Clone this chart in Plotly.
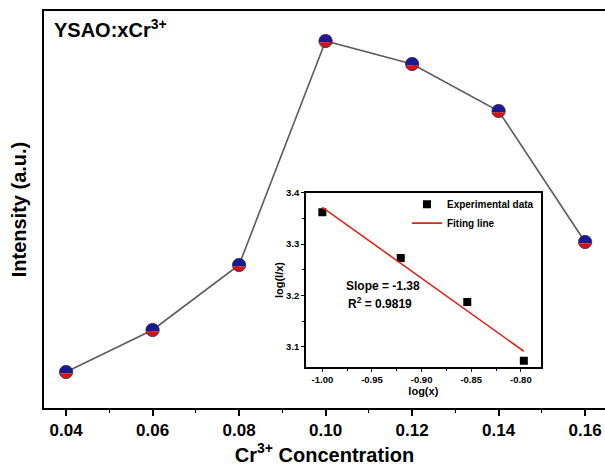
import numpy as np
import plotly.graph_objects as go

FONT = "Liberation Sans, Arial, sans-serif"

# Emission intensity versus Cr3+ doping level
concentration = [0.04, 0.06, 0.08, 0.10, 0.12, 0.14, 0.16]
intensity = [36, 78, 143, 367, 344, 297, 166]
main_tick_vals = [0.04, 0.06, 0.08, 0.10, 0.12, 0.14, 0.16]
main_tick_text = ["0.04", "0.06", "0.08", "0.10", "0.12", "0.14", "0.16"]

# Inset: log(I/x) vs log(x) in the quenching region
log_x = [-1.000, -0.921, -0.854, -0.797]
log_i_over_x = [3.362, 3.273, 3.187, 3.073]
fit_slope = -1.38
fit_r2 = 0.9819
inset_x_ticks = [-1.00, -0.95, -0.90, -0.85, -0.80]
inset_x_text = ["-1.00", "-0.95", "-0.90", "-0.85", "-0.80"]
inset_y_ticks = [3.1, 3.2, 3.3, 3.4]
inset_y_text = ["3.1", "3.2", "3.3", "3.4"]

# straight fit line with the quoted slope, through the centroid of the points
lx = np.array(log_x)
ly = np.array(log_i_over_x)
intercept = ly.mean() - fit_slope * lx.mean()
fit_x = np.array([lx[0], lx[-1]])
fit_y = intercept + fit_slope * fit_x

fig = go.Figure()

fig.add_trace(go.Scatter(
    x=concentration, y=intensity, mode="lines",
    line=dict(color="#5c5c5c", width=1.6),
    showlegend=False, hoverinfo="skip",
))

fig.add_trace(go.Scatter(
    x=log_x, y=log_i_over_x, mode="markers", name="Experimental data",
    marker=dict(symbol="square", size=8, color="black"),
    xaxis="x2", yaxis="y2",
))
fig.add_trace(go.Scatter(
    x=fit_x, y=fit_y, mode="lines", name="Fiting line",
    line=dict(color="#e3241b", width=1.6),
    xaxis="x2", yaxis="y2",
))

# two-tone circular markers (blue upper part, red lower part), sized in pixels
R = 6.6
SPLIT = -1.2


def poly(points):
    return "M" + " L".join(f"{px:.2f},{py:.2f}" for px, py in points) + " Z"


a0 = np.arcsin(SPLIT / R)
top_ang = np.linspace(a0, np.pi - a0, 30)
bot_ang = np.linspace(np.pi - a0, 2 * np.pi + a0, 30)
ring_ang = np.linspace(0, 2 * np.pi, 48)
top_path = poly([(R * np.cos(a), R * np.sin(a)) for a in top_ang])
bot_path = poly([(R * np.cos(a), R * np.sin(a)) for a in bot_ang])
ring_path = poly([(R * np.cos(a), R * np.sin(a)) for a in ring_ang])

shapes = []
for cx, cy in zip(concentration, intensity):
    common = dict(type="path", xref="x", yref="y", xsizemode="pixel",
                  ysizemode="pixel", xanchor=cx, yanchor=cy, layer="above")
    shapes.append(dict(common, path=top_path, fillcolor="#1c1a8e",
                       line=dict(width=0)))
    shapes.append(dict(common, path=bot_path, fillcolor="#d41414",
                       line=dict(width=0)))
    shapes.append(dict(common, path=ring_path, fillcolor="rgba(0,0,0,0)",
                       line=dict(color="#2a1a55", width=0.8)))

bold = dict(family=FONT, color="black", weight="bold")

fig.update_layout(
    width=605, height=466,
    margin=dict(l=44, r=0, t=11, b=58),
    template="none",
    paper_bgcolor="white", plot_bgcolor="white",
    shapes=shapes,
    xaxis=dict(
        range=[0.0349, 0.1646], tickvals=main_tick_vals, ticktext=main_tick_text,
        ticks="outside", ticklen=6, tickwidth=1.5, tickcolor="black",
        minor=dict(ticks="outside", ticklen=3, tickwidth=1.2, tickcolor="black",
                   dtick=0.01, tick0=0.04),
        showline=True, linewidth=2, linecolor="black", mirror=True,
        showgrid=False, zeroline=False, automargin=False,
        tickfont=dict(bold, size=17),
        title=dict(text="Cr<sup>3+</sup> Concentration", font=dict(bold, size=20),
                   standoff=5),
    ),
    yaxis=dict(
        range=[0, 397], showticklabels=False, ticks="",
        showline=True, linewidth=2, linecolor="black", mirror=False,
        showgrid=False, zeroline=False, automargin=False,
        title=dict(text="Intensity (a.u.)", font=dict(bold, size=20), standoff=10),
    ),
    xaxis2=dict(
        domain=[0.467, 0.8854], anchor="y2",
        range=[-1.0165, -0.78], tickvals=inset_x_ticks, ticktext=inset_x_text,
        ticks="outside", ticklen=3, tickwidth=1, tickcolor="black",
        minor=dict(ticks="outside", ticklen=2, tickwidth=1, tickcolor="black",
                   dtick=0.025, tick0=-1.0),
        showline=True, linewidth=1.5, linecolor="black", mirror=True,
        showgrid=False, zeroline=False, automargin=False,
        tickfont=dict(bold, size=9.5),
        title=dict(text="log(x)", font=dict(bold, size=11), standoff=1),
    ),
    yaxis2=dict(
        domain=[0.1025, 0.5423], anchor="x2",
        range=[3.06, 3.40], tickvals=inset_y_ticks, ticktext=inset_y_text,
        ticks="outside", ticklen=3, tickwidth=1, tickcolor="black",
        minor=dict(ticks="outside", ticklen=2, tickwidth=1, tickcolor="black",
                   dtick=0.05, tick0=3.1),
        showline=True, linewidth=1.5, linecolor="black", mirror=True,
        showgrid=False, zeroline=False, automargin=False,
        tickfont=dict(bold, size=9.5),
        title=dict(text="log(I/x)", font=dict(bold, size=11), standoff=0),
    ),
    legend=dict(
        x=0.647, y=0.55, xanchor="left", yanchor="top",
        bgcolor="rgba(0,0,0,0)", borderwidth=0,
        font=dict(bold, size=10), itemwidth=30,
    ),
    annotations=[
        dict(text="<b>YSAO:xCr<sup>3+</sup></b>", xref="paper", yref="paper",
             x=0.0137, y=0.957, xanchor="left", yanchor="middle",
             showarrow=False, font=dict(family=FONT, size=20, color="black")),
        dict(text=f"<b>Slope = {fit_slope:.2f}</b>", xref="paper", yref="paper",
             x=0.5348, y=0.308, xanchor="left", yanchor="middle",
             showarrow=False, font=dict(family=FONT, size=12, color="black")),
        dict(text=f"<b>R<sup>2</sup> = {fit_r2:.4f}</b>", xref="paper", yref="paper",
             x=0.5375, y=0.2645, xanchor="left", yanchor="middle",
             showarrow=False, font=dict(family=FONT, size=12, color="black")),
    ],
)

fig.write_html("out.html")
